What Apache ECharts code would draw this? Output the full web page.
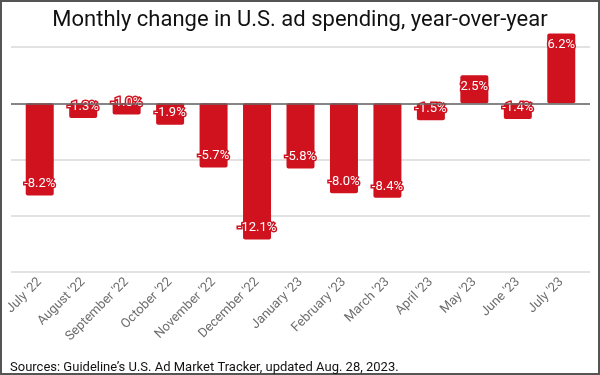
<!DOCTYPE html>
<html>
<head>
<meta charset="utf-8">
<script src="https://cdn.jsdelivr.net/npm/echarts@6/dist/echarts.min.js"></script>
<style>
html,body{margin:0;padding:0;background:#fff;}
#wrap{position:relative;width:600px;height:375px;box-sizing:border-box;border:2px solid #555;}
#chart{position:absolute;left:-2px;top:-2px;width:600px;height:375px;}
</style>
</head>
<body>
<div id="wrap"><div id="chart"></div></div>
<script>
var months = ["July '22","August '22","September '22","October '22","November '22","December '22","January '23","February '23","March '23","April '23","May '23","June '23","July '23"];
var changes = [-8.2,-1.3,-1.0,-1.9,-5.7,-12.1,-5.8,-8.0,-8.4,-1.5,2.5,-1.4,6.2];
var titleText = "Monthly change in U.S. ad spending, year-over-year";
var sourceText = "Sources: Guideline\u2019s U.S. Ad Market Tracker, updated Aug. 28, 2023.";

var red = '#d0121f';
var chart = echarts.init(document.getElementById('chart'), null, {renderer:'canvas'});
var barData = changes.map(function(v){
  return {value:v, label:{position: v < 0 ? 'insideBottom' : 'insideTop'}};
});
chart.setOption({
  animation:false,
  textStyle:{fontFamily:'Roboto'},
  title:[
    {text:titleText, left:'center', top:4, textStyle:{fontFamily:'Roboto', fontSize:22, fontWeight:'normal', color:'#111'}},
    {text:sourceText, left:5, top:356, textStyle:{fontFamily:'Roboto', fontSize:13, fontWeight:'normal', color:'#111'}}
  ],
  grid:[
    {left:18, right:17, top:47, bottom:103},
    {left:11, right:10, top:47, bottom:103}
  ],
  xAxis:[
    {type:'category', gridIndex:0, data:months,
     axisLine:{show:false}, axisTick:{show:false},
     axisLabel:{interval:0, rotate:45, margin:8, fontSize:13, color:'#6e6e6e', fontFamily:'Roboto', padding:[0,0,0,0]}},
    {type:'value', gridIndex:1, min:0, max:1, show:false}
  ],
  yAxis:[
    {type:'value', gridIndex:0, min:-15, max:5, interval:5, show:false, splitLine:{show:false}},
    {type:'value', gridIndex:1, min:-15, max:5, interval:5,
     axisLine:{show:false}, axisTick:{show:false}, axisLabel:{show:false},
     splitLine:{show:true, lineStyle:{color:'#d9d9d9', width:1.5}}}
  ],
  series:[
    {type:'line', xAxisIndex:1, yAxisIndex:1, data:[], silent:true, z:1,
     markLine:{silent:true, symbol:'none', label:{show:false},
       lineStyle:{color:'#666', type:'solid', width:1.5},
       data:[{yAxis:0}]}},
    {type:'bar', xAxisIndex:0, yAxisIndex:0, data:barData, barWidth:28, clip:false, z:3,
     itemStyle:{color:red, borderRadius:2},
     label:{show:true, distance:5, formatter:function(p){return p.value.toFixed(1)+'%';},
       fontFamily:'Roboto', fontSize:13, color:'#fff', textBorderColor:red, textBorderWidth:3}}
  ]
});
</script>
</body>
</html>
